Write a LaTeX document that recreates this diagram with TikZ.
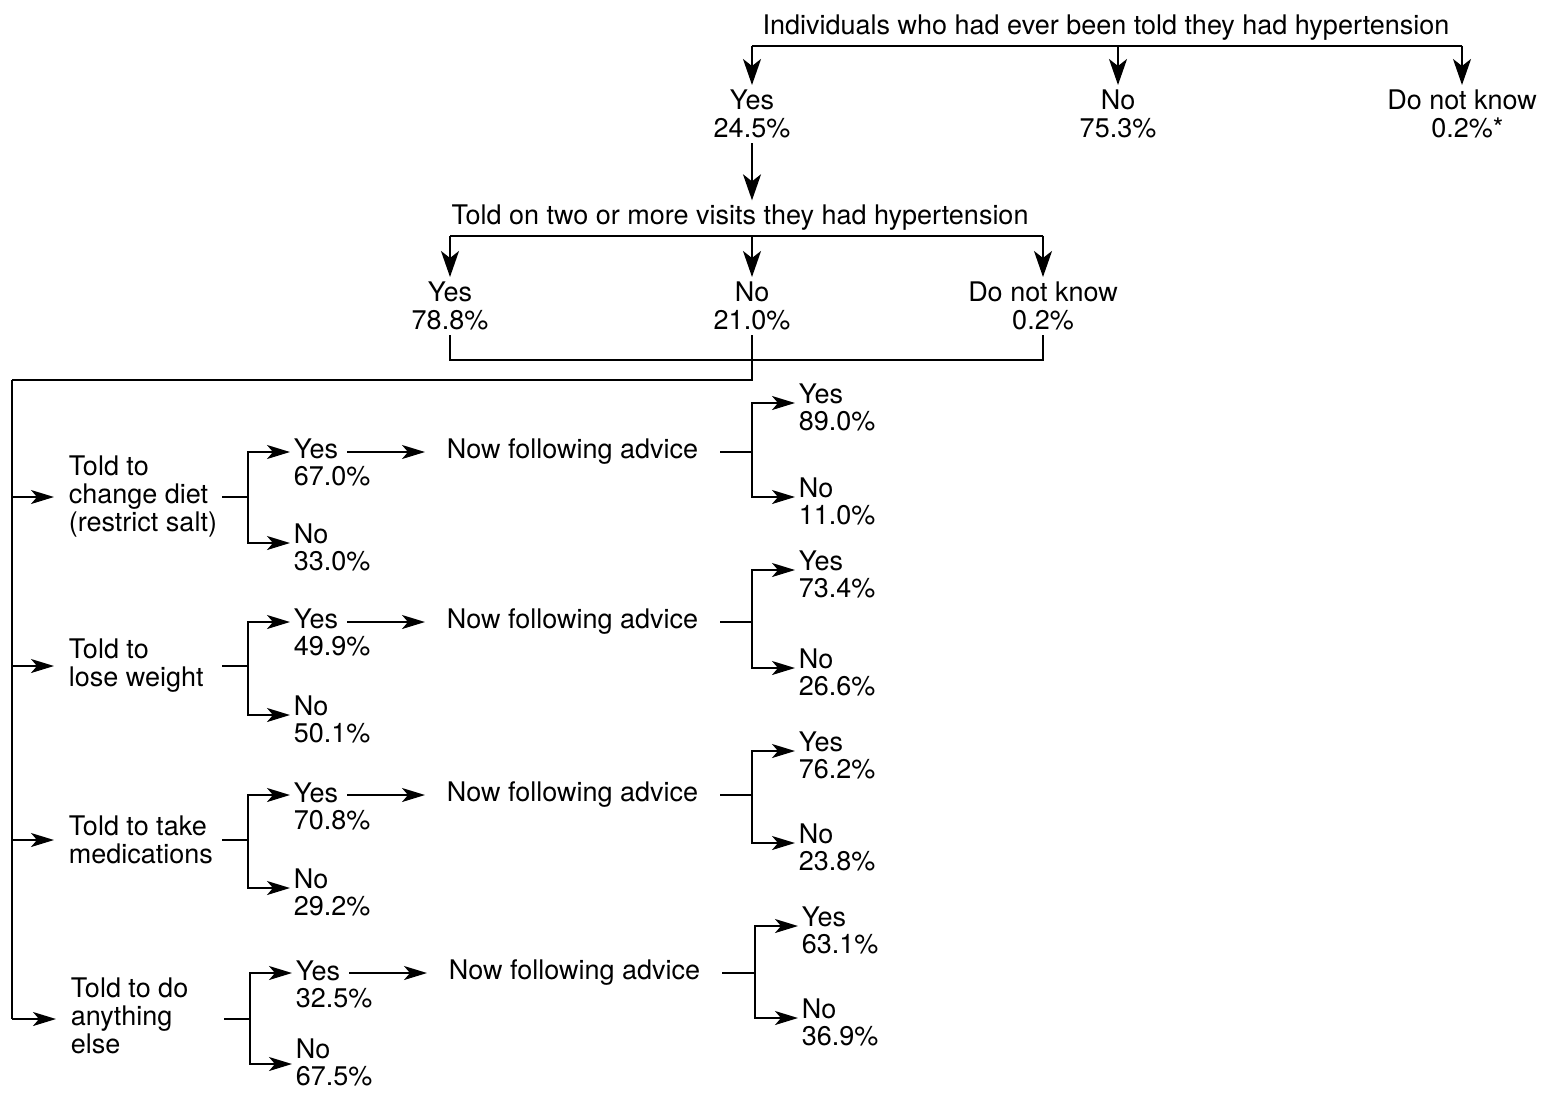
\documentclass[tikz,border=0pt]{standalone}
\usepackage{fontspec}
\setmainfont{TeX Gyre Heros}
\usepackage{tikz}
\usetikzlibrary{arrows.meta}

\begin{document}
\begin{tikzpicture}[x=0.5pt,y=-0.5pt,line width=0.9pt,
  font=\fontsize{13.5}{14}\selectfont,
  >={Stealth[length=11.5pt,width=7pt,inset=3pt]},
  dn/.style={-{Stealth[length=13pt,width=9pt,inset=3.5pt]}},
  hd/.style={inner sep=2pt},
  ctr/.style={align=center,inner sep=2pt},
  told/.style={align=left,anchor=west,inner xsep=7pt},
  ans/.style={align=left,anchor=west,inner xsep=1.5pt,font=\fontsize{13.5}{13.5}\selectfont},
  adv/.style={anchor=west,inner xsep=10.5pt}]
\useasboundingbox (0,0) rectangle (1541,1093);
% first question
\node[hd] (q1) at (1106,28) {Individuals who had ever been told they had hypertension};
\node[ctr] (q1y) at (752,114) {Yes\\24.5\%};
\node[ctr] (q1n) at (1118,114) {No\\75.3\%};
\node[ctr] (q1d) at (1462,114) {Do not know\\0.2\%\rlap{*}};
\draw (q1y |- q1.south) -- (q1d |- q1.south);
\draw[dn] (q1y |- q1.south) -- (q1y);
\draw[dn] (q1n |- q1.south) -- (q1n);
\draw[dn] (q1d |- q1.south) -- (q1d);
% second question
\node[hd] (q2) at (740,218) {Told on two or more visits they had hypertension};
\draw[dn] (q1y) -- (q1y |- q2.north);
\node[ctr] (q2y) at (450,306) {Yes\\78.8\%};
\node[ctr] (q2n) at (752,306) {No\\21.0\%};
\node[ctr] (q2d) at (1043,306) {Do not know\\0.2\%};
\draw (q2y |- q2.south) -- (q2d |- q2.south);
\draw[dn] (q2y |- q2.south) -- (q2y);
\draw[dn] (q2n |- q2.south) -- (q2n);
\draw[dn] (q2d |- q2.south) -- (q2d);
% all three answers join the trunk
\coordinate (jn) at (752,360);
\coordinate (tl) at (12,380);
\draw (q2y.south) |- (jn) -| (q2d.south);
\draw (q2n.south) |- (tl);
% diet
\node[told] (a1) at (54,497) {Told to\\change diet\\(restrict salt)};
\coordinate (b1) at (248,497);
\node[ans] (a1y) at (290,462) {Yes\\67.0\%};
\node[ans] (a1n) at (290,547) {No\\33.0\%};
\node[adv] (f1) at (425,452) {Now following advice};
\coordinate (c1) at (752,452);
\node[ans] (f1y) at (795,407) {Yes\\89.0\%};
\node[ans] (f1n) at (795,501) {No\\11.0\%};
\draw[->] (tl |- a1) -- (a1);
\draw (b1) ++(-26,0) -- (b1);
\draw[->] (b1) |- (a1y.west |- f1);
\draw[->] (b1) |- ([yshift=2pt]a1n.west);
\draw[->] (f1.west) ++(-78,0) -- (f1.west);
\draw (f1) -- (c1);
\draw[->] (c1) |- ([yshift=2pt]f1y.west);
\draw[->] (c1) |- ([yshift=2pt]f1n.west);
% weight
\node[told] (a2) at (54,666) {Told to\\lose weight};
\coordinate (b2) at (248,666);
\node[ans] (a2y) at (290,632) {Yes\\49.9\%};
\node[ans] (a2n) at (290,719) {No\\50.1\%};
\node[adv] (f2) at (425,622) {Now following advice};
\coordinate (c2) at (752,622);
\node[ans] (f2y) at (795,574) {Yes\\73.4\%};
\node[ans] (f2n) at (795,672) {No\\26.6\%};
\draw[->] (tl |- a2) -- (a2);
\draw (b2) ++(-26,0) -- (b2);
\draw[->] (b2) |- (a2y.west |- f2);
\draw[->] (b2) |- ([yshift=2pt]a2n.west);
\draw[->] (f2.west) ++(-78,0) -- (f2.west);
\draw (f2) -- (c2);
\draw[->] (c2) |- ([yshift=2pt]f2y.west);
\draw[->] (c2) |- ([yshift=2pt]f2n.west);
% medications
\node[told] (a3) at (54,840) {Told to take\\medications};
\coordinate (b3) at (248,840);
\node[ans] (a3y) at (290,806) {Yes\\70.8\%};
\node[ans] (a3n) at (290,892) {No\\29.2\%};
\node[adv] (f3) at (425,795) {Now following advice};
\coordinate (c3) at (752,795);
\node[ans] (f3y) at (795,755) {Yes\\76.2\%};
\node[ans] (f3n) at (795,847) {No\\23.8\%};
\draw[->] (tl |- a3) -- (a3);
\draw (b3) ++(-26,0) -- (b3);
\draw[->] (b3) |- (a3y.west |- f3);
\draw[->] (b3) |- ([yshift=2pt]a3n.west);
\draw[->] (f3.west) ++(-78,0) -- (f3.west);
\draw (f3) -- (c3);
\draw[->] (c3) |- ([yshift=2pt]f3y.west);
\draw[->] (c3) |- ([yshift=2pt]f3n.west);
% anything else
\node[told] (a4) at (56,1016) {Told to do\\anything\\else};
\coordinate (b4) at (250,1019);
\node[ans] (a4y) at (292,984) {Yes\\32.5\%};
\node[ans] (a4n) at (292,1062) {No\\67.5\%};
\node[adv] (f4) at (427,973) {Now following advice};
\coordinate (c4) at (755,973);
\node[ans] (f4y) at (798,930) {Yes\\63.1\%};
\node[ans] (f4n) at (798,1022) {No\\36.9\%};
\draw[->] (tl |- b4) -- (a4.west |- b4);
\draw (b4) ++(-26,0) -- (b4);
\draw[->] (b4) |- (a4y.west |- f4);
\draw[->] (b4) |- ([yshift=-1pt]a4n.west);
\draw[->] (f4.west) ++(-78,0) -- (f4.west);
\draw (f4) -- (c4);
\draw[->] (c4) |- ([yshift=2pt]f4y.west);
\draw[->] (c4) |- ([yshift=2pt]f4n.west);
\draw (tl) -- (tl |- b4);
\end{tikzpicture}
\end{document}
